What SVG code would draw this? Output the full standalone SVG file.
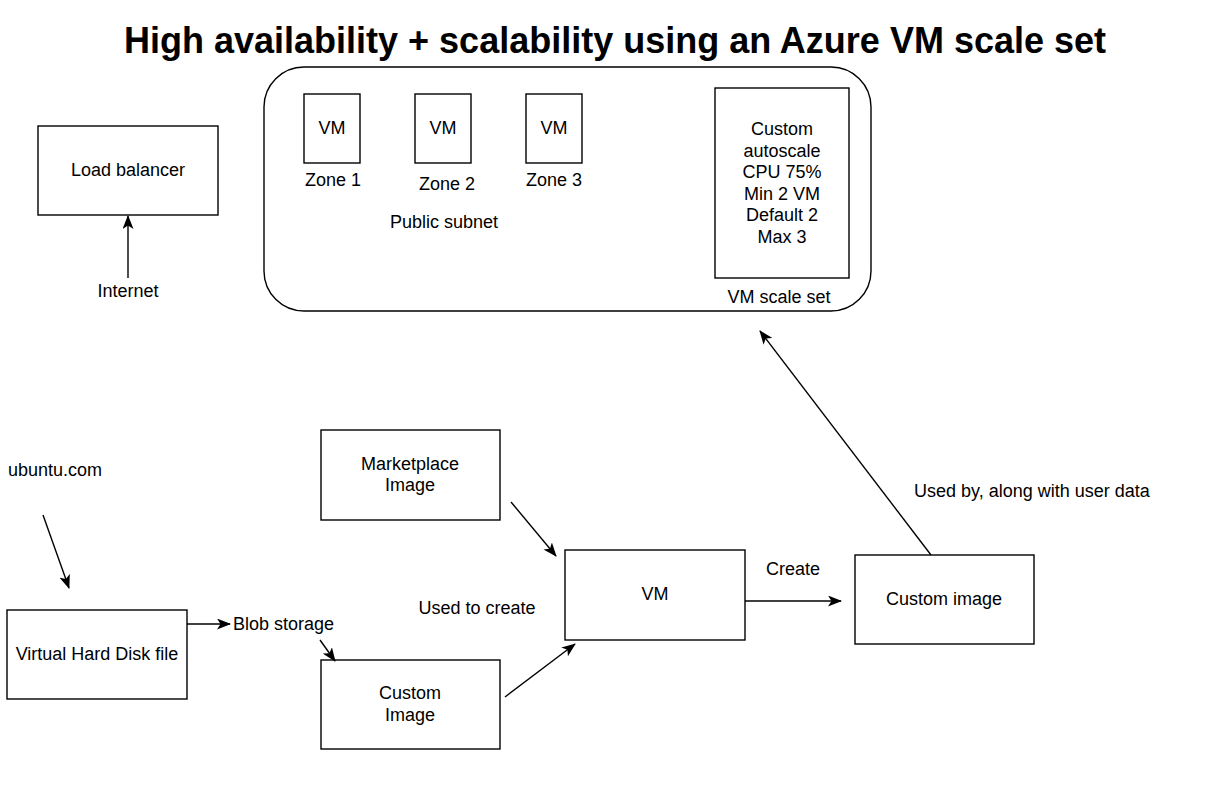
<svg xmlns="http://www.w3.org/2000/svg" width="1207" height="802" viewBox="0 0 1207 802">
<defs>
<style>
text{font-family:"Liberation Sans",Arial,sans-serif;font-size:18px;fill:#000;text-anchor:middle}
.t{font-size:36px;font-weight:bold}
.s{text-anchor:start}
.box{fill:#fff;stroke:#000;stroke-width:1.4}
.c{stroke:#000;stroke-width:1.4;fill:none;marker-end:url(#ah)}
</style>
<marker id="ah" viewBox="0 0 14 11" refX="13" refY="5.5" markerWidth="14" markerHeight="11" markerUnits="userSpaceOnUse" orient="auto">
<path d="M0,0 L14,5.5 L0,11 L3.5,5.5 Z" fill="#000"/>
</marker>
</defs>
<rect width="1207" height="802" fill="#fff"/>
<text class="t" x="615" y="53">High availability + scalability using an Azure VM scale set</text>

<g id="scaleset">
<rect class="box" x="264" y="67" width="607" height="244" rx="40"/>
<text x="779" y="303">VM scale set</text>
</g>
<g id="vm1"><rect class="box" x="304" y="94" width="56" height="69"/><text x="332" y="134">VM</text><text x="333" y="186">Zone 1</text></g>
<g id="vm2"><rect class="box" x="415" y="94" width="56" height="69"/><text x="443" y="134">VM</text><text x="447" y="190">Zone 2</text></g>
<g id="vm3"><rect class="box" x="526" y="94" width="56" height="69"/><text x="554" y="134">VM</text><text x="554" y="186">Zone 3</text></g>
<g id="subnet"><text x="444" y="228">Public subnet</text></g>
<g id="autoscale">
<rect class="box" x="715" y="88" width="134" height="190"/>
<text x="782" y="135">Custom</text>
<text x="782" y="157">autoscale</text>
<text x="782" y="178">CPU 75%</text>
<text x="782" y="200">Min 2 VM</text>
<text x="782" y="221">Default 2</text>
<text x="782" y="243">Max 3</text>
</g>

<g id="lb"><rect class="box" x="38" y="126" width="180" height="89"/><text x="128" y="176">Load balancer</text></g>
<g id="internet"><text x="128" y="297">Internet</text></g>
<g id="ubuntu"><text class="s" x="8" y="476">ubuntu.com</text></g>
<g id="vhd"><rect class="box" x="7" y="610" width="180" height="89"/><text x="97" y="660">Virtual Hard Disk file</text></g>
<g id="blob"><text class="s" x="233" y="630">Blob storage</text></g>
<g id="marketplace"><rect class="box" x="321" y="430" width="179" height="90"/><text x="410" y="470">Marketplace</text><text x="410" y="491">Image</text></g>
<g id="customimg1"><rect class="box" x="321" y="660" width="179" height="89"/><text x="410" y="699">Custom</text><text x="410" y="721">Image</text></g>
<g id="vm"><rect class="box" x="565" y="550" width="180" height="90"/><text x="655" y="600">VM</text></g>
<g id="customimg2"><rect class="box" x="855" y="555" width="179" height="89"/><text x="944" y="605">Custom image</text></g>

<g id="connectors">
<line class="c" x1="128" y1="278" x2="128" y2="216"/>
<line class="c" x1="43" y1="515" x2="69" y2="588"/>
<line class="c" x1="187" y1="624" x2="230" y2="624"/>
<line class="c" x1="320" y1="640" x2="335" y2="661"/>
<line class="c" x1="511" y1="502" x2="556" y2="556"/>
<line class="c" x1="505" y1="697" x2="575" y2="644"/>
<line class="c" x1="745" y1="601" x2="841" y2="601"/>
<line class="c" x1="931" y1="555" x2="760" y2="331"/>
<text x="477" y="614">Used to create</text>
<text x="793" y="575">Create</text>
<text class="s" x="914" y="497">Used by, along with user data</text>
</g>
</svg>
